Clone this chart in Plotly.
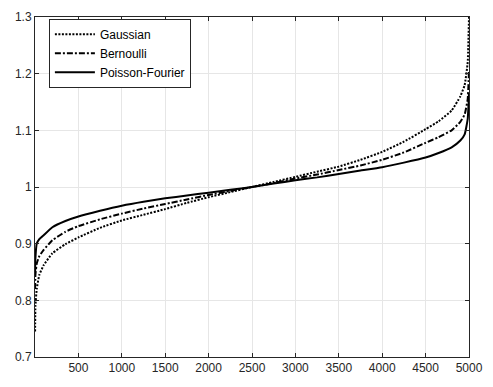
import plotly.graph_objects as go

# Sorted sample index and values for each estimator
idx = [1, 5, 20, 50, 100, 200, 350, 500, 750, 1000, 1250, 1500, 1750, 2000, 2250,
       2500, 2750, 3000, 3250, 3500, 3750, 4000, 4250, 4500, 4650, 4800, 4900,
       4950, 4985, 5000]

gaussian = [0.745, 0.79, 0.82, 0.845, 0.862, 0.883, 0.899, 0.911, 0.928, 0.941,
            0.951, 0.961, 0.972, 0.982, 0.991, 1.0, 1.009, 1.018, 1.027, 1.036,
            1.048, 1.062, 1.080, 1.102, 1.116, 1.135, 1.160, 1.180, 1.22, 1.30]

bernoulli = [0.82, 0.845, 0.865, 0.878, 0.889, 0.906, 0.921, 0.931, 0.943, 0.953,
             0.962, 0.970, 0.978, 0.986, 0.993, 1.0, 1.007, 1.015, 1.022, 1.030,
             1.038, 1.048, 1.061, 1.078, 1.088, 1.100, 1.115, 1.128, 1.155, 1.205]

poisson_fourier = [0.85, 0.875, 0.90, 0.908, 0.915, 0.929, 0.940, 0.948, 0.958,
                   0.967, 0.974, 0.980, 0.985, 0.990, 0.995, 1.0, 1.006, 1.012,
                   1.017, 1.023, 1.029, 1.035, 1.043, 1.052, 1.060, 1.070, 1.082,
                   1.093, 1.12, 1.165]

x_ticks = [500, 1000, 1500, 2000, 2500, 3000, 3500, 4000, 4500, 5000]
y_ticks = [0.7, 0.8, 0.9, 1.0, 1.1, 1.2, 1.3]
y_labels = ["0.7", "0.8", "0.9", "1", "1.1", "1.2", "1.3"]

series = [
    ("Gaussian", gaussian, "2px,1.5px"),
    ("Bernoulli", bernoulli, "6px,2px,2px,2px"),
    ("Poisson-Fourier", poisson_fourier, "solid"),
]

fig = go.Figure()
for name, vals, dash in series:
    fig.add_trace(go.Scatter(
        x=idx, y=vals, mode="lines", name=name,
        line=dict(color="black", width=2, dash=dash, shape="spline", smoothing=0.4),
    ))

axis_common = dict(
    showline=True, linecolor="#262626", linewidth=1, mirror="ticks",
    ticks="inside", ticklen=4, tickcolor="#262626",
    showgrid=True, gridcolor="#e6e6e6", gridwidth=1,
    zeroline=False,
    tickfont=dict(family="Liberation Sans, Arial", size=12, color="#262626"),
)

fig.update_xaxes(range=[0, 5000], tickvals=x_ticks, **axis_common)
fig.update_yaxes(range=[0.7, 1.3], tickvals=y_ticks, ticktext=y_labels, **axis_common)

fig.update_layout(
    width=493, height=387,
    margin=dict(l=35, r=17, t=10, b=30),
    plot_bgcolor="white", paper_bgcolor="white",
    legend=dict(
        x=0.032, y=0.995, xanchor="left", yanchor="top",
        bgcolor="white", bordercolor="#262626", borderwidth=1,
        font=dict(family="Liberation Sans, Arial", size=12, color="black"),
        itemwidth=40, tracegroupgap=0,
    ),
    showlegend=True,
)

fig.write_html("out.html")
